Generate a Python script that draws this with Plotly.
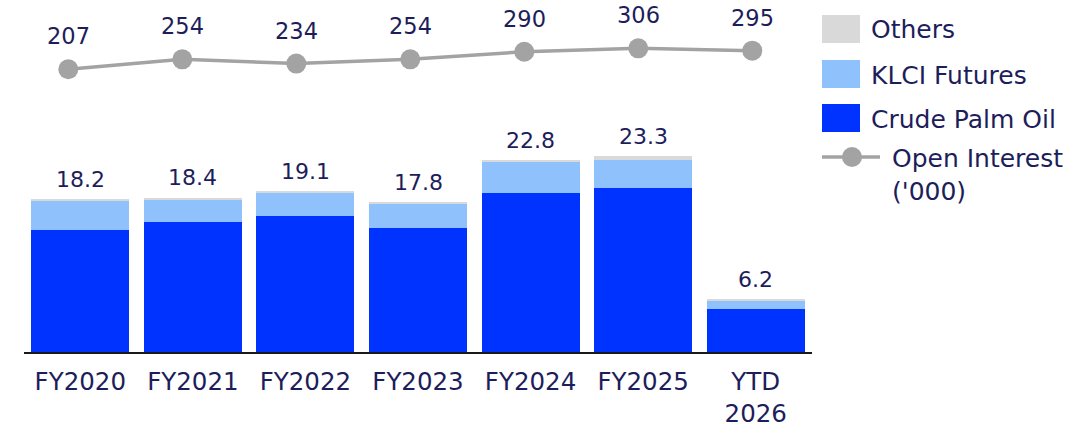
import plotly.graph_objects as go

# Contract volumes (millions) by product, and open interest ('000)
categories = ["FY2020", "FY2021", "FY2022", "FY2023", "FY2024", "FY2025", "YTD<br>2026"]
crude_palm_oil = [14.5, 15.5, 16.2, 14.8, 19.0, 19.5, 5.1]
klci_futures = [3.6, 2.7, 2.75, 2.85, 3.7, 3.4, 1.05]
others = [0.1, 0.2, 0.15, 0.15, 0.1, 0.4, 0.05]
open_interest = [207, 254, 234, 254, 290, 306, 295]

totals = [round(a + b + c, 1) for a, b, c in zip(crude_palm_oil, klci_futures, others)]

TEXT = "#1d1d5b"
FONT = "DejaVu Sans"
C_CPO = "#0033ff"
C_KLCI = "#8fc1fc"
C_OTH = "#d9d9d9"
C_OI = "#a3a3a3"

W, H = 1086, 427
L, R, T, B = 24, 274, 0, 75
PW, PH = W - L - R, H - T - B

fig = go.Figure()
for name, vals, col in [("Crude Palm Oil", crude_palm_oil, C_CPO),
                        ("KLCI Futures", klci_futures, C_KLCI),
                        ("Others", others, C_OTH)]:
    fig.add_trace(go.Bar(x=categories, y=vals, name=name, marker_color=col,
                         marker_line_width=0, showlegend=False))

fig.add_trace(go.Scatter(x=categories, y=open_interest, xaxis="x2", yaxis="y2",
                         mode="lines+markers", line=dict(color=C_OI, width=3.5),
                         marker=dict(color=C_OI, size=20), showlegend=False))

ann = []
for c, t in zip(categories, totals):
    ann.append(dict(x=c, y=t, xref="x", yref="y", text=f"{t:.1f}", showarrow=False,
                    yshift=20, yanchor="middle", font=dict(size=22, color=TEXT, family=FONT)))
for c, v in zip(categories, open_interest):
    ann.append(dict(x=c, y=v, xref="x2", yref="y2", text=str(v), showarrow=False,
                    yshift=33, yanchor="middle", font=dict(size=22.5, color=TEXT, family=FONT)))

# Hand-built legend on the right
def px_x(p):
    return (p - L) / PW

def px_y(p):
    return 1 - (p - T) / PH

shapes = []
legend_rows = [("Others", C_OTH, 29), ("KLCI Futures", C_KLCI, 74), ("Crude Palm Oil", C_CPO, 118)]
for label, col, cy in legend_rows:
    shapes.append(dict(type="rect", xref="paper", yref="paper", x0=px_x(822), x1=px_x(860),
                       y0=px_y(cy - 14), y1=px_y(cy + 14), fillcolor=col, line_width=0))
    ann.append(dict(x=px_x(869), y=px_y(cy + 1), xref="paper", yref="paper", text=label,
                    showarrow=False, xanchor="left", yanchor="middle",
                    font=dict(size=25, color=TEXT, family=FONT)))
shapes.append(dict(type="line", xref="paper", yref="paper", x0=px_x(822), x1=px_x(880),
                   y0=px_y(157), y1=px_y(157), line=dict(color=C_OI, width=3.5)))
shapes.append(dict(type="circle", xref="paper", yref="paper", xsizemode="pixel", ysizemode="pixel",
                   xanchor=px_x(852), yanchor=px_y(157), x0=-10, x1=10, y0=-10, y1=10,
                   fillcolor=C_OI, line_width=0))
ann.append(dict(x=px_x(890), y=px_y(175), xref="paper", yref="paper",
                text="Open Interest<br>('000)", showarrow=False, xanchor="left", yanchor="middle",
                align="left", font=dict(size=25, color=TEXT, family=FONT)))

fig.update_layout(
    width=W, height=H, margin=dict(l=L, r=R, t=T, b=B),
    barmode="stack", bargap=0.13,
    plot_bgcolor="white", paper_bgcolor="white",
    font=dict(family=FONT, color=TEXT, size=22),
    xaxis=dict(type="category", showgrid=False, showline=True, linecolor="#1a1a1a", linewidth=2,
               ticks="outside", ticklen=7, tickcolor="rgba(0,0,0,0)",
               tickfont=dict(size=24.5, color=TEXT, family=FONT)),
    yaxis=dict(range=[0, 41.95], visible=False),
    xaxis2=dict(type="category", overlaying="x", range=[-0.3886, 6.524], visible=False),
    yaxis2=dict(overlaying="y", range=[-1126.5, 533.9], visible=False),
    annotations=ann, shapes=shapes,
)

fig.write_html("out.html")
